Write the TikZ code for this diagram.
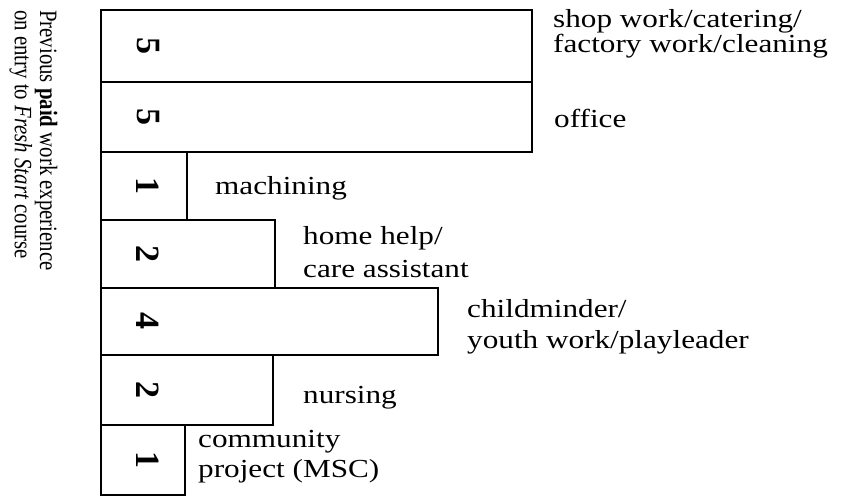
\documentclass[tikz,border=0pt]{standalone}
\usepackage{fontspec}
\setmainfont{Liberation Serif}
\newcommand\lbltext[2]{\scalebox{1.2}[1]{\fontsize{26}{#1}\selectfont\begin{tabular}[t]{@{}l@{}}#2\end{tabular}}}
\begin{document}
\begin{tikzpicture}[x=1pt,y=-1pt,
  barbox/.style={draw=black,line width=2.1pt},
  num/.style={font=\fontsize{34}{34}\selectfont\bfseries,rotate=-90,inner sep=0pt},
  lab/.style={anchor=base west,inner sep=0pt},
  caption/.style={font=\fontsize{20.8}{21}\selectfont,rotate=-90,anchor=north west,inner sep=0pt}]
\useasboundingbox (0,0) rectangle (842,498);
% bars
\draw[barbox] (101,10) rectangle (532,82);
\draw[barbox] (101,82) rectangle (532,152);
\draw[barbox] (101,152) rectangle (187,220);
\draw[barbox] (101,220) rectangle (275,288);
\draw[barbox] (101,288) rectangle (438,355);
\draw[barbox] (101,355) rectangle (273,425);
\draw[barbox] (101,425) rectangle (185,495);
% numbers
\node[num] (n1) at (148,46) {5};
\node[num] (n2) at (148,117) {5};
\node[num] (n3) at (148,186) {1};
\node[num] (n4) at (148,254) {2};
\node[num] (n5) at (148,321) {4};
\node[num] (n6) at (148,390) {2};
\node[num] (n7) at (148,460) {1};
% labels
\node[lab] (l1) at (553,27) {\lbltext{24}{shop work/catering/\\factory work/cleaning}};
\node[lab] (l2) at (554,127) {\lbltext{28}{office}};
\node[lab] (l3) at (215,194) {\lbltext{28}{machining}};
\node[lab] (l4) at (303,244) {\lbltext{33}{home help/\\care assistant}};
\node[lab] (l5) at (467,317) {\lbltext{31}{childminder/\\youth work/playleader}};
\node[lab] (l6) at (303,403) {\lbltext{28}{nursing}};
\node[lab] (l7) at (198,447) {\lbltext{30}{community\\project (MSC)}};
% caption
\node[caption] (cap) at (58,10) {\scalebox{1}[1.2]{\begin{tabular}[t]{@{}l@{}}Previous \textbf{paid} work experience\\on entry to \textit{Fresh Start} course\end{tabular}}};
\end{tikzpicture}
\end{document}
